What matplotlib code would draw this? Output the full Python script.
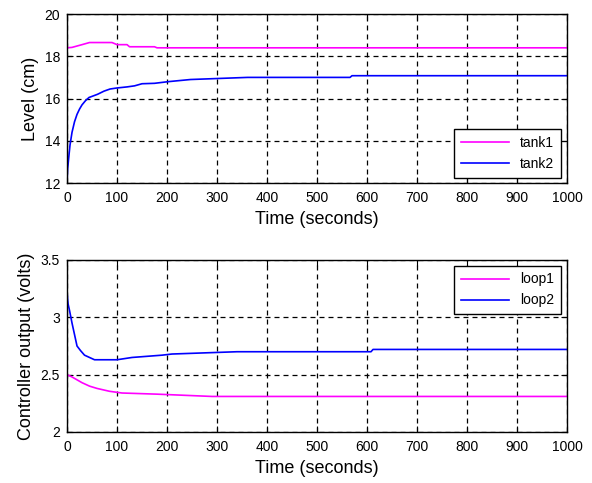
import matplotlib
matplotlib.use("Agg")
import matplotlib.pyplot as plt

plt.rcParams['font.family'] = ['Liberation Sans', 'DejaVu Sans']

# Top panel: tank levels (cm)
t_tank1 = [0, 10, 30, 45, 90, 100, 120, 125, 175, 180, 1000]
tank1 = [18.40, 18.42, 18.55, 18.65, 18.65, 18.55, 18.55, 18.45, 18.45, 18.40, 18.40]
t_tank2 = [0, 1, 3, 6, 10, 15, 20, 25, 30, 37, 44, 52, 61, 74, 86, 100, 120, 135, 150, 175,
           203, 247, 361, 566, 570, 1000]
tank2 = [12.0, 12.6, 13.1, 13.8, 14.4, 14.9, 15.25, 15.5, 15.7, 15.9, 16.05, 16.12, 16.2, 16.35,
         16.45, 16.5, 16.55, 16.6, 16.7, 16.72, 16.8, 16.9, 17.0, 17.0, 17.08, 17.08]

# Bottom panel: controller outputs (volts)
t_loop1 = [0, 10, 30, 45, 60, 85, 110, 180, 290, 1000]
loop1 = [2.50, 2.48, 2.43, 2.40, 2.38, 2.355, 2.34, 2.33, 2.31, 2.31]
t_loop2 = [0, 2, 5, 10, 15, 20, 27, 35, 45, 55, 100, 130, 190, 210, 340, 608, 612, 1000]
loop2 = [3.22, 3.12, 3.06, 2.95, 2.85, 2.75, 2.71, 2.67, 2.65, 2.63, 2.63, 2.65, 2.67, 2.68,
         2.70, 2.70, 2.72, 2.72]

xticks = [0, 100, 200, 300, 400, 500, 600, 700, 800, 900, 1000]
yticks_top = [12, 14, 16, 18, 20]
yticks_bot = [2, 2.5, 3, 3.5]
yticklabels_bot = ['2', '2.5', '3', '3.5']

fig = plt.figure(figsize=(5.92, 4.83), dpi=100)
ax1 = fig.add_axes([0.1132, 0.621, 0.8446, 0.350])
ax2 = fig.add_axes([0.1132, 0.1056, 0.8446, 0.3561])

magenta = '#ff00ff'
blue = '#0000ff'

ax1.plot(t_tank1, tank1, color=magenta, lw=1.2, label='tank1')
ax1.plot(t_tank2, tank2, color=blue, lw=1.2, label='tank2')
ax1.set_xlim(0, 1000)
ax1.set_ylim(12, 20)
ax1.set_yticks(yticks_top)
ax1.set_ylabel('Level (cm)', fontsize=13, labelpad=4)
ax1.set_xlabel('Time (seconds)', fontsize=13, labelpad=4)

ax2.plot(t_loop1, loop1, color=magenta, lw=1.2, label='loop1')
ax2.plot(t_loop2, loop2, color=blue, lw=1.2, label='loop2')
ax2.set_xlim(0, 1000)
ax2.set_ylim(2, 3.5)
ax2.set_yticks(yticks_bot)
ax2.set_yticklabels(yticklabels_bot)
ax2.set_ylabel('Controller output (volts)', fontsize=13, labelpad=4)
ax2.set_xlabel('Time (seconds)', fontsize=13, labelpad=4)

for ax in (ax1, ax2):
    ax.set_xticks(xticks)
    ax.grid(True, color='black', linestyle=(0, (4, 3.2)), linewidth=0.9)
    ax.tick_params(direction='in', top=True, right=True, labelsize=10, length=4)
    ax.tick_params(axis='x', pad=6)
    ax.tick_params(axis='y', pad=5)
    for s in ax.spines.values():
        s.set_linewidth(1.0)

leg1 = ax1.legend(loc='lower right', fontsize=10, fancybox=False, edgecolor='black',
                  framealpha=1, borderpad=0.5, handlelength=3.5, borderaxespad=0.4)
leg1.get_frame().set_linewidth(1.0)
leg2 = ax2.legend(loc='upper right', fontsize=10, fancybox=False, edgecolor='black',
                  framealpha=1, borderpad=0.5, handlelength=3.5, borderaxespad=0.4)
leg2.get_frame().set_linewidth(1.0)

fig.savefig('out.png', dpi=100)
